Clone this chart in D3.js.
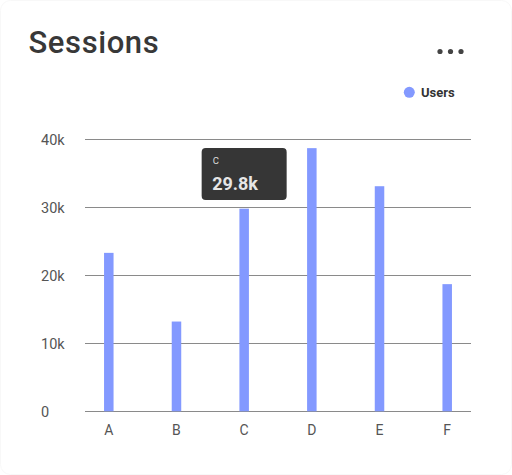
<!DOCTYPE html>
<html>
<head>
<meta charset="utf-8">
<script src="https://cdn.jsdelivr.net/npm/d3@7"></script>
<style>
  html, body { margin: 0; padding: 0; background: #fff; }
  svg { display: block; font-family: Roboto, "Noto Sans", sans-serif; }
</style>
</head>
<body>
<svg id="chart" width="512" height="475"></svg>
<script>
const categories = ["A", "B", "C", "D", "E", "F"];
const users = [23300, 13200, 29800, 38700, 33100, 18700];
const yTicks = [0, 10000, 20000, 30000, 40000];
const yTickLabels = ["0", "10k", "20k", "30k", "40k"];
const seriesName = "Users";
const title = "Sessions";
const tooltipCategory = "C";

const svg = d3.select("#chart");
const barColor = "#8399ff";

// card
svg.append("rect")
  .attr("x", 0.5).attr("y", 0.5).attr("width", 511).attr("height", 474)
  .attr("rx", 10).attr("fill", "#fff").attr("stroke", "#f8f8f8");

// title
svg.append("text")
  .attr("x", 28.5).attr("y", 52.5)
  .attr("font-size", 31).attr("font-weight", 500)
  .attr("letter-spacing", 0.6)
  .attr("fill", "#383838")
  .text(title);

// menu dots
svg.append("g").selectAll("circle").data([0, 1, 2]).join("circle")
  .attr("cx", d => 440 + d * 10.5).attr("cy", 51.5).attr("r", 2.6).attr("fill", "#444");

// legend
svg.append("circle").attr("cx", 409.3).attr("cy", 92.3).attr("r", 5.5).attr("fill", barColor);
svg.append("text").attr("x", 421).attr("y", 97)
  .attr("font-size", 13).attr("font-weight", 700).attr("fill", "#333")
  .text(seriesName);

const x = d3.scalePoint().domain(categories).range([108.8, 447.2]);
const y = d3.scaleLinear().domain([0, 40000]).range([411.3, 139.3]);

// gridlines
svg.append("g").selectAll("line").data(yTicks).join("line")
  .attr("x1", 85).attr("x2", 471)
  .attr("y1", d => Math.round(y(d)) + 0.5).attr("y2", d => Math.round(y(d)) + 0.5)
  .attr("stroke", "#8a8a8a").attr("stroke-width", 1);

// y labels
svg.append("g").selectAll("text").data(yTicks).join("text")
  .attr("x", 41).attr("y", d => y(d))
  .attr("dy", "0.36em")
  .attr("font-size", 14.5).attr("fill", "#555")
  .text((d, i) => yTickLabels[i]);

// x labels
svg.append("g").selectAll("text").data(categories).join("text")
  .attr("x", d => x(d)).attr("y", 430)
  .attr("dy", "0.36em").attr("text-anchor", "middle")
  .attr("font-size", 14).attr("fill", "#555")
  .text(d => d);

// bars
const bw = 9.5;
svg.append("g").selectAll("rect").data(categories).join("rect")
  .attr("x", d => x(d) - bw / 2)
  .attr("width", bw)
  .attr("y", (d, i) => y(users[i]))
  .attr("height", (d, i) => y(0) - y(users[i]))
  .attr("fill", barColor);

// tooltip
const ti = categories.indexOf(tooltipCategory);
const tg = svg.append("g").attr("transform", `translate(${x(tooltipCategory) - 42.5},148)`);
tg.append("rect").attr("width", 85).attr("height", 52).attr("rx", 4).attr("fill", "#363636");
tg.append("text").attr("x", 11).attr("y", 15.5)
  .attr("font-size", 9.5).attr("fill", "#ddd").text(tooltipCategory);
tg.append("text").attr("x", 10.5).attr("y", 42)
  .attr("font-size", 18).attr("font-weight", 700).attr("fill", "#e6e6e6")
  .text(d3.format(".1f")(users[ti] / 1000) + "k");
</script>
</body>
</html>
